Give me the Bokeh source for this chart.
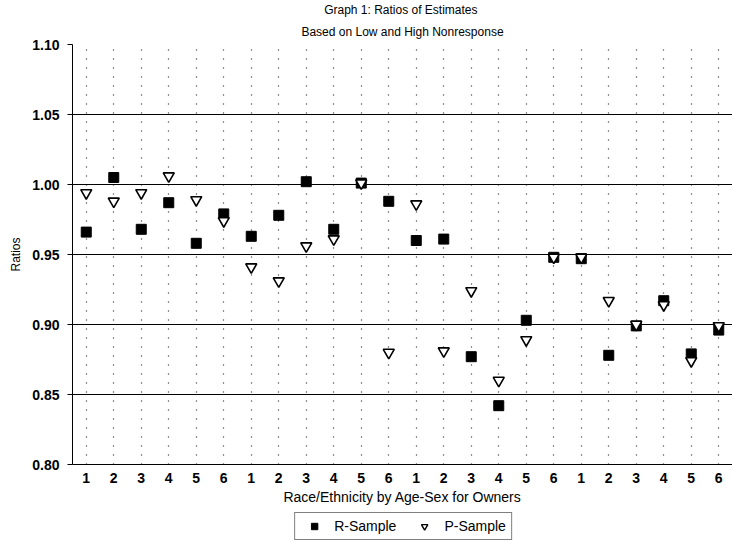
from bokeh.plotting import figure
from bokeh.layouts import row, column
from bokeh.models import (ColumnDataSource, FixedTicker, Legend, LegendItem, Title,
                          Range1d, Spacer)
from bokeh.embed import file_html
from bokeh.resources import INLINE

# ---- data ----
positions = list(range(1, 25))
tick_labels = ["1", "2", "3", "4", "5", "6"] * 4
r_sample = [0.966, 1.005, 0.968, 0.987, 0.958, 0.979,
            0.963, 0.978, 1.002, 0.968, 1.001, 0.988,
            0.960, 0.961, 0.877, 0.842, 0.903, 0.948,
            0.947, 0.878, 0.899, 0.917, 0.879, 0.896]
p_sample = [0.994, 0.988, 0.994, 1.006, 0.989, 0.974,
            0.941, 0.931, 0.956, 0.961, 1.001, 0.880,
            0.986, 0.881, 0.924, 0.860, 0.889, 0.948,
            0.948, 0.917, 0.900, 0.914, 0.874, 0.899]
y_ticks = [0.80, 0.85, 0.90, 0.95, 1.00, 1.05, 1.10]
series_names = ["R-Sample", "P-Sample"]

FONT = "Liberation Sans"

src = ColumnDataSource(dict(x=positions, r=r_sample, p=p_sample))

p = figure(frame_width=660, frame_height=420,
           output_backend="svg",
           toolbar_location=None, x_range=Range1d(0.5, 24.5),
           y_range=Range1d(0.80, 1.10), min_border_left=58,
           min_border_right=0, min_border_top=36, min_border_bottom=0)
p.title = None
p.outline_line_color = None
p.background_fill_color = "white"
p.border_fill_color = "white"

t2 = Title(text="Based on Low and High Nonresponse", align="center",
           text_font=FONT, text_font_size="12px", text_font_style="normal",
           text_color="black", standoff=12, offset=0)
t1 = Title(text="Graph 1:  Ratios of Estimates", align="center",
           text_font=FONT, text_font_size="12px", text_font_style="normal",
           text_color="black", standoff=0)
p.add_layout(t2, "above")
p.add_layout(t1, "above")

# axes
p.yaxis.ticker = FixedTicker(ticks=y_ticks)
p.yaxis.major_label_overrides = {v: f"{v:.2f}" for v in y_ticks}
p.yaxis.axis_label = "Ratios"
p.yaxis.axis_label_text_font = FONT
p.yaxis.axis_label_text_font_size = "12px"
p.yaxis.axis_label_text_font_style = "normal"
p.yaxis.axis_label_text_color = "black"
p.yaxis.axis_label_standoff = 6
p.yaxis.major_label_text_font = FONT
p.yaxis.major_label_text_font_size = "14px"
p.yaxis.major_label_text_font_style = "bold"
p.yaxis.major_label_text_color = "black"
p.yaxis.major_tick_out = 5
p.yaxis.major_tick_in = 0
p.yaxis.minor_tick_line_color = None
p.yaxis.major_label_standoff = 8
p.yaxis.axis_line_color = "black"
p.yaxis.major_tick_line_color = "black"

p.xaxis.ticker = FixedTicker(ticks=positions)
p.xaxis.major_label_overrides = {i: lab for i, lab in zip(positions, tick_labels)}
p.xaxis.axis_label = "Race/Ethnicity by Age-Sex for Owners"
p.xaxis.axis_label_text_font = FONT
p.xaxis.axis_label_text_font_size = "14px"
p.xaxis.axis_label_text_font_style = "normal"
p.xaxis.axis_label_text_color = "black"
p.xaxis.axis_label_standoff = 3
p.xaxis.major_label_text_font = FONT
p.xaxis.major_label_text_font_size = "14px"
p.xaxis.major_label_text_font_style = "bold"
p.xaxis.major_label_text_color = "black"
p.xaxis.major_tick_out = 0
p.xaxis.major_tick_in = 0
p.xaxis.minor_tick_line_color = None
p.xaxis.major_label_standoff = 8
p.xaxis.axis_line_color = "black"

# grids
p.ygrid.ticker = FixedTicker(ticks=y_ticks)
p.ygrid.grid_line_color = "black"
p.ygrid.grid_line_width = 1
p.xgrid.ticker = FixedTicker(ticks=positions)
p.xgrid.grid_line_color = "#222222"
p.xgrid.grid_line_width = 1.2
p.xgrid.grid_line_dash = "1 8"

p.scatter("x", "r", source=src, marker="square", size=10,
          fill_color="black", line_color="black")
p.scatter("x", "p", source=src, marker="inverted_triangle", size=11,
          fill_color="white", line_color="black", line_width=1.6)

# ---- legend in its own small figure placed below the chart ----
lf = figure(width=240, height=38, output_backend="svg", toolbar_location=None,
            x_axis_type=None, y_axis_type=None, min_border=0,
            x_range=Range1d(0, 1), y_range=Range1d(0, 1))
lf.outline_line_color = None
lf.background_fill_color = "white"
lf.border_fill_color = "white"
# one key point per series, kept outside the visible range (only the legend shows)
key_src = ColumnDataSource(dict(x=[-5.0], y=[-5.0]))
lr = lf.scatter("x", "y", source=key_src, marker="square", size=9,
                fill_color="black", line_color="black")
lp = lf.scatter("x", "y", source=key_src, marker="inverted_triangle", size=10,
                fill_color="white", line_color="black", line_width=1.4)
legend = Legend(items=[LegendItem(label=series_names[0], renderers=[lr]),
                       LegendItem(label=series_names[1], renderers=[lp])],
                orientation="horizontal", location="center",
                border_line_color="black", border_line_width=1,
                background_fill_color="white",
                label_text_font=FONT, label_text_font_size="14px",
                label_text_color="black",
                glyph_height=16, glyph_width=28, label_height=16,
                padding=5, spacing=14, margin=0, label_standoff=6)
lf.add_layout(legend, "center")

layout = column(row(Spacer(width=6, height=10), p),
                row(Spacer(width=283, height=10), lf))

open("out.html", "w").write(file_html(layout, INLINE))
